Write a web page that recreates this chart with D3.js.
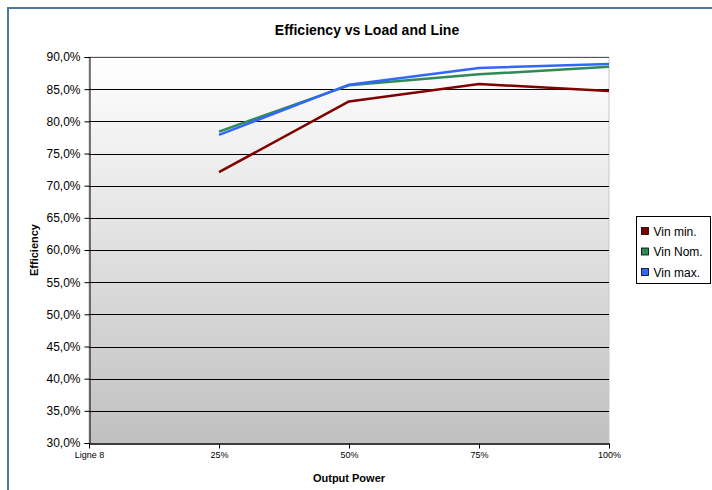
<!DOCTYPE html>
<html><head><meta charset="utf-8">
<script src="https://cdn.jsdelivr.net/npm/d3@7"></script>
<style>body{margin:0;background:#fff;}svg{display:block;font-family:Arial,"Liberation Sans",sans-serif;}</style>
</head><body>
<svg id="c" width="712" height="490"></svg>
<script>
const categories = ["Ligne 8", "25%", "50%", "75%", "100%"];
const vinMin = [null, 72.1, 83.1, 85.8, 84.7];
const vinNom = [null, 78.4, 85.6, 87.3, 88.5];
const vinMax = [null, 77.9, 85.7, 88.3, 88.9];
const seriesNames = ["Vin min.", "Vin Nom.", "Vin max."];
const seriesColors = ["#800000", "#2e8b57", "#3366ff"];
const yTicks = [30, 35, 40, 45, 50, 55, 60, 65, 70, 75, 80, 85, 90];

const svg = d3.select("#c");
const L = 89, R = 609, T = 57, B = 443;

// outer frame
svg.append("rect").attr("x", 8).attr("y", 8).attr("width", 720).attr("height", 500)
  .attr("fill", "#fff").attr("stroke", "#4f74a8").attr("stroke-width", 2);

const x = d3.scalePoint().domain(categories).range([L, R]);
const y = d3.scaleLinear().domain([30, 90]).range([B, T]);

const defs = svg.append("defs");
const g = defs.append("linearGradient").attr("id", "bg").attr("x1", 0).attr("y1", 0).attr("x2", 0).attr("y2", 1);
g.append("stop").attr("offset", "0%").attr("stop-color", "#ffffff");
g.append("stop").attr("offset", "100%").attr("stop-color", "#c0c0c0");

svg.append("rect").attr("x", L).attr("y", T).attr("width", R - L).attr("height", B - T)
  .attr("fill", "url(#bg)").attr("stroke", "#c8c8c8");

// gridlines
svg.append("g").selectAll("line").data(yTicks.filter(d => d > 30)).join("line")
  .attr("x1", L).attr("x2", R).attr("y1", d => Math.round(y(d)) + 0.5).attr("y2", d => Math.round(y(d)) + 0.5)
  .attr("stroke", d => d === 90 ? "#555" : "#000").attr("stroke-width", 1);

// y axis
const yAxis = d3.axisLeft(y).tickValues(yTicks).tickSize(5).tickPadding(4)
  .tickFormat(d => d.toFixed(1).replace(".", ",") + "%");
const ya = svg.append("g").attr("transform", `translate(${L + 0.5},0)`).call(yAxis);
ya.selectAll("text").attr("font-size", 12).attr("fill", "#000").attr("font-family", "Arial, 'Liberation Sans', sans-serif");
ya.selectAll("line,path").attr("stroke", "#000");

// x axis
const xAxis = d3.axisBottom(x).tickSize(5).tickPadding(3).tickSizeOuter(0);
const xa = svg.append("g").attr("transform", `translate(0,${B + 0.5})`).call(xAxis);
xa.selectAll("text").attr("font-size", 9).attr("fill", "#000").attr("font-family", "Arial, 'Liberation Sans', sans-serif");
xa.selectAll("line,path").attr("stroke", "#000");
xa.select("path").attr("stroke-width", 1.5);

// lines
const allSeries = [vinMin, vinNom, vinMax];
const line = d3.line().defined(d => d.v !== null).x(d => x(d.c)).y(d => y(d.v));
allSeries.forEach((s, i) => {
  svg.append("path").datum(s.map((v, j) => ({c: categories[j], v})))
    .attr("d", line).attr("fill", "none").attr("stroke", seriesColors[i]).attr("stroke-width", 2.5)
    .attr("stroke-linejoin", "round");
});

// titles
svg.append("text").attr("x", 367).attr("y", 35).attr("text-anchor", "middle")
  .attr("font-size", 14).attr("font-weight", "bold").text("Efficiency vs Load and Line");
svg.append("text").attr("x", 349).attr("y", 482).attr("text-anchor", "middle")
  .attr("font-size", 11).attr("font-weight", "bold").text("Output Power");
svg.append("text").attr("transform", "translate(38,250) rotate(-90)").attr("text-anchor", "middle")
  .attr("font-size", 11).attr("font-weight", "bold").text("Efficiency");

// legend
const lg = svg.append("g").attr("transform", "translate(636.5,216.5)");
lg.append("rect").attr("width", 74).attr("height", 67).attr("fill", "#fff").attr("stroke", "#000");
seriesNames.forEach((n, i) => {
  const yy = 15 + i * 20.5;
  lg.append("rect").attr("x", 5).attr("y", yy - 4).attr("width", 7).attr("height", 7)
    .attr("fill", seriesColors[i]).attr("stroke", "#000").attr("stroke-width", 0.8);
  lg.append("text").attr("x", 17).attr("y", yy + 4).attr("font-size", 12).text(n);
});
</script>
</body></html>
